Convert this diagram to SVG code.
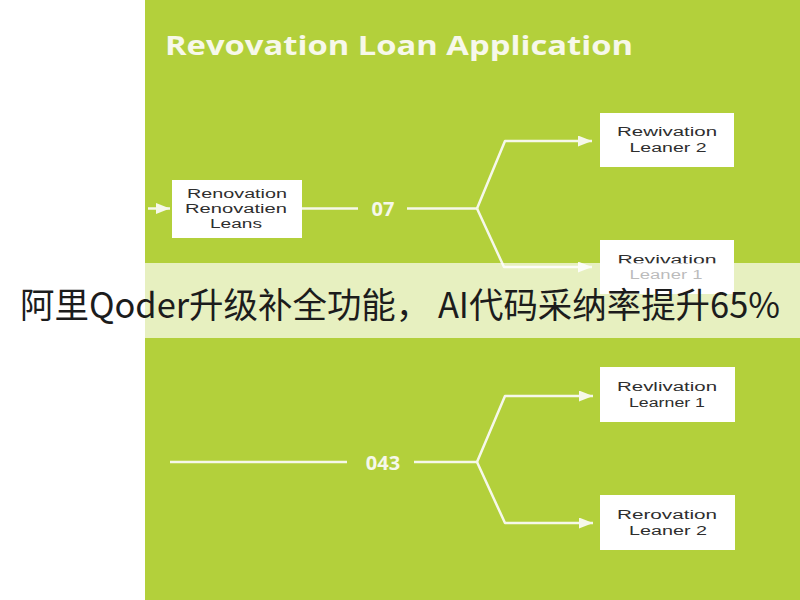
<svg xmlns="http://www.w3.org/2000/svg" width="800" height="600" viewBox="0 0 800 600">
  <defs>
    <marker id="arrow" markerUnits="userSpaceOnUse" markerWidth="15" markerHeight="11" refX="14" refY="5.5" orient="auto">
      <path d="M0,0 L14,5.5 L0,11 z" fill="#f6f8ea"/>
    </marker>
    <style>
      .bg { fill: #b3d03b; }
      .title { font-family: "Open Sans", "Liberation Sans", sans-serif; font-weight: 700; font-size: 27px; fill: #f7f8ea; }
      .box { fill: #ffffff; }
      .btxt { font-family: "Liberation Sans", "Open Sans", sans-serif; font-weight: 400; font-size: 12.5px; fill: #2e2e2e; text-anchor: middle; dominant-baseline: central; }
      .conn { fill: none; stroke: #f6f8ea; stroke-width: 2.5; stroke-linejoin: round; }
      .clabel { font-family: "Open Sans", "Liberation Sans", sans-serif; font-weight: 700; font-size: 20px; fill: #f6f8ea; text-anchor: middle; dominant-baseline: central; }
      .banner { fill: #ffffff; fill-opacity: 0.68; }
      .btext { font-family: "Noto Sans CJK SC", "Noto Sans", sans-serif; font-weight: 400; font-size: 35px; fill: #1c1c1c; dominant-baseline: central; }
    </style>
  </defs>

  <rect x="0" y="0" width="800" height="600" fill="#ffffff"/>
  <rect class="bg" x="145" y="0" width="655" height="600"/>

  <text class="title" x="165" y="55" textLength="468" lengthAdjust="spacingAndGlyphs">Revovation Loan Application</text>

  <g id="connectors">
    <path class="conn" d="M148,208.5 L170,208.5" marker-end="url(#arrow)"/>
    <path class="conn" d="M302,208.5 L358,208.5"/>
    <text class="clabel" x="383" y="208.5">07</text>
    <path class="conn" d="M407,208.5 L477,208.5"/>
    <path class="conn" d="M477,208.5 L505,141 L592,141" marker-end="url(#arrow)"/>
    <path class="conn" d="M477,208.5 L504,267 L592,267" marker-end="url(#arrow)"/>

    <path class="conn" d="M170,462 L347,462"/>
    <text class="clabel" x="383" y="462">043</text>
    <path class="conn" d="M414,462 L477,462"/>
    <path class="conn" d="M477,462 L505,396 L593,396" marker-end="url(#arrow)"/>
    <path class="conn" d="M477,462 L505,523 L593,523" marker-end="url(#arrow)"/>
  </g>

  <g id="node-renovation-loans">
    <rect class="box" x="172" y="180" width="130" height="58"/>
    <text class="btxt" x="237" y="194" textLength="100" lengthAdjust="spacingAndGlyphs">Renovation</text>
    <text class="btxt" x="236" y="209" textLength="102" lengthAdjust="spacingAndGlyphs">Renovatien</text>
    <text class="btxt" x="236" y="224" textLength="52" lengthAdjust="spacingAndGlyphs">Leans</text>
  </g>

  <g id="node-rewivation-leaner-2">
    <rect class="box" x="600" y="113" width="134" height="54"/>
    <text class="btxt" x="667" y="132" textLength="100" lengthAdjust="spacingAndGlyphs">Rewivation</text>
    <text class="btxt" x="668" y="148" textLength="77" lengthAdjust="spacingAndGlyphs">Leaner 2</text>
  </g>

  <g id="node-revivation-leaner-1">
    <rect class="box" x="600" y="240" width="134" height="54"/>
    <text class="btxt" x="667" y="260" textLength="99" lengthAdjust="spacingAndGlyphs">Revivation</text>
    <text class="btxt" x="666" y="275" textLength="73" lengthAdjust="spacingAndGlyphs">Leaner 1</text>
  </g>

  <g id="node-revlivation-learner-1">
    <rect class="box" x="600" y="367" width="135" height="55"/>
    <text class="btxt" x="667" y="387" textLength="100" lengthAdjust="spacingAndGlyphs">Revlivation</text>
    <text class="btxt" x="667" y="403" textLength="76" lengthAdjust="spacingAndGlyphs">Learner 1</text>
  </g>

  <g id="node-rerovation-leaner-2">
    <rect class="box" x="600" y="495" width="135" height="55"/>
    <text class="btxt" x="667" y="515" textLength="100" lengthAdjust="spacingAndGlyphs">Rerovation</text>
    <text class="btxt" x="668" y="531" textLength="78" lengthAdjust="spacingAndGlyphs">Leaner 2</text>
  </g>

  <g id="banner">
    <rect class="banner" x="0" y="263" width="800" height="75"/>
    <text class="btext" x="20" y="302" textLength="760" lengthAdjust="spacingAndGlyphs">阿里Qoder升级补全功能， AI代码采纳率提升65%</text>
  </g>
</svg>
